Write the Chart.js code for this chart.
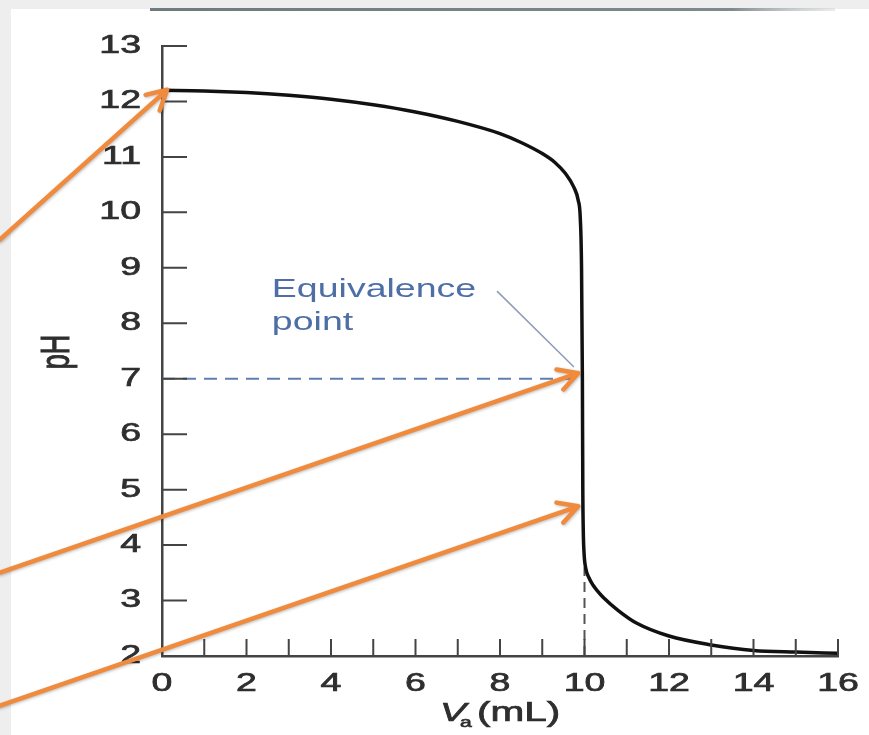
<!DOCTYPE html>
<html>
<head>
<meta charset="utf-8">
<script src="https://cdn.jsdelivr.net/npm/chart.js@4.4.1/dist/chart.umd.min.js"></script>
<style>
  html, body { margin: 0; padding: 0; background: #eeeeee; }
  #wrap { width: 869px; height: 735px; }
</style>
</head>
<body>
<div id="wrap"><canvas id="miGrafico" width="869" height="735"></canvas></div>
<script>
// titration curve
const volumes = [0, 1, 2, 3, 4, 5, 6, 7, 8, 8.5, 9, 9.3, 9.55, 9.75, 9.85, 9.9, 9.93, 9.95, 9.96, 9.97, 9.99, 10.03, 10.1, 10.2, 10.3, 10.44, 10.8, 11.24, 12, 13, 14, 15, 16];
const phValues = [12.2, 12.19, 12.16, 12.11, 12.04, 11.94, 11.81, 11.64, 11.42, 11.26, 11.06, 10.9, 10.7, 10.45, 10.22, 9.9, 9.0, 7.0, 5.0, 4.3, 3.85, 3.58, 3.42, 3.28, 3.18, 3.06, 2.82, 2.59, 2.36, 2.2, 2.1, 2.07, 2.05];

const xTickValues = [0, 1, 2, 3, 4, 5, 6, 7, 8, 9, 10, 11, 12, 13, 14, 15, 16];
const xTickLabels = ['0', '', '2', '', '4', '', '6', '', '8', '', '10', '', '12', '', '14', '', '16'];
const yTickValues = [2, 3, 4, 5, 6, 7, 8, 9, 10, 11, 12, 13];

// dashed guide lines
const eqLineVa = [0, 9.8];
const eqLinePH = [7, 7];
const eqDropVa = [10, 10];
const eqDropPH = [2, 3.6];
// leader from the label to the equivalence point
const leaderVa = [7.93, 9.75];
const leaderPH = [8.58, 7.21];
const eqLabel = ['Equivalence', 'point'];
const eqLabelPos = [2.6, 8.47];

// orange arrows (tail -> tip), data units
const arrowTails = [[-3.85, 9.5], [-3.85, 3.5], [-3.85, 1.1]];
const arrowTips = [[0.12, 12.21], [9.85, 7.1], [9.85, 4.7]];

const STRETCH = 1.5;
const FONT = '"Liberation Sans", Arial, sans-serif';

function pts(xs, ys) {
    return xs.map((v, i) => ({ x: v, y: ys[i] }));
}

function stretchedText(ctx, txt, x, y, align, heavy) {
    ctx.save();
    ctx.translate(x, y);
    ctx.scale(STRETCH, 1);
    ctx.textAlign = align;
    if (heavy) {
        ctx.lineWidth = 0.7;
        ctx.strokeStyle = ctx.fillStyle;
        ctx.strokeText(txt, 0, 0);
    }
    ctx.fillText(txt, 0, 0);
    ctx.restore();
}

const decor = {
    id: 'decor',
    beforeDraw(chart) {
        const ctx = chart.ctx;
        ctx.save();
        ctx.fillStyle = '#eeeeee';
        ctx.fillRect(0, 0, chart.width, chart.height);
        ctx.fillStyle = '#ffffff';
        ctx.fillRect(11, 9, chart.width - 11, chart.height - 9);
        const g = ctx.createLinearGradient(150, 0, 835, 0);
        g.addColorStop(0, '#6d7a7e');
        g.addColorStop(0.85, '#808a8d');
        g.addColorStop(1, 'rgba(200,205,207,0.4)');
        ctx.fillStyle = g;
        ctx.fillRect(150, 8, 685, 3);
        ctx.restore();
    },
    afterDraw(chart) {
        const ctx = chart.ctx;
        const xs = chart.scales.x, ys = chart.scales.y;
        const x0 = xs.getPixelForValue(0), y0 = ys.getPixelForValue(2);
        ctx.save();
        // inward tick marks
        ctx.strokeStyle = '#444';
        ctx.lineWidth = 2;
        ctx.beginPath();
        yTickValues.forEach(v => {
            const py = ys.getPixelForValue(v);
            ctx.moveTo(x0, py);
            ctx.lineTo(x0 + 25, py);
        });
        xTickValues.forEach(v => {
            const px = xs.getPixelForValue(v);
            ctx.moveTo(px, y0);
            ctx.lineTo(px, y0 - 17);
        });
        ctx.stroke();

        // tick labels
        ctx.fillStyle = '#2e2e2e';
        ctx.font = '25px ' + FONT;
        ctx.textBaseline = 'middle';
        yTickValues.forEach(v => {
            stretchedText(ctx, String(v), x0 - 21, ys.getPixelForValue(v), 'right', true);
        });
        ctx.textBaseline = 'alphabetic';
        xTickValues.forEach((v, i) => {
            if (xTickLabels[i]) stretchedText(ctx, xTickLabels[i], xs.getPixelForValue(v), y0 + 35, 'center', true);
        });

        // axis titles
        ctx.font = 'italic 26px ' + FONT;
        stretchedText(ctx, 'V', 440, 721, 'left', true);
        ctx.font = '14px ' + FONT;
        stretchedText(ctx, 'a', 460, 727, 'left', true);
        ctx.font = '27px ' + FONT;
        stretchedText(ctx, '(mL)', 477, 721, 'left', true);
        ctx.save();
        ctx.translate(58, 352);
        ctx.scale(STRETCH, 1);
        ctx.rotate(-Math.PI / 2);
        ctx.textAlign = 'center';
        ctx.textBaseline = 'middle';
        ctx.lineWidth = 0.7;
        ctx.strokeStyle = ctx.fillStyle;
        ctx.strokeText('pH', 0, 0);
        ctx.fillText('pH', 0, 0);
        ctx.restore();

        // equivalence label
        ctx.fillStyle = '#4d6fa6';
        ctx.font = '25px ' + FONT;
        const lx = xs.getPixelForValue(eqLabelPos[0]);
        const ly = ys.getPixelForValue(eqLabelPos[1]);
        stretchedText(ctx, eqLabel[0], lx, ly, 'left', false);
        stretchedText(ctx, eqLabel[1], lx, ly + 33, 'left', false);

        // orange arrows
        ctx.strokeStyle = '#f08a3c';
        ctx.lineWidth = 4.5;
        ctx.lineCap = 'round';
        ctx.lineJoin = 'round';
        ctx.shadowColor = 'rgba(0,0,0,0.25)';
        ctx.shadowBlur = 3;
        ctx.shadowOffsetX = 1;
        ctx.shadowOffsetY = 1;
        arrowTails.forEach((t, i) => {
            const ax = xs.getPixelForValue(t[0]), ay = ys.getPixelForValue(t[1]);
            const bx = xs.getPixelForValue(arrowTips[i][0]), by = ys.getPixelForValue(arrowTips[i][1]);
            const ang = Math.atan2(by - ay, bx - ax);
            ctx.beginPath();
            ctx.moveTo(ax, ay);
            ctx.lineTo(bx, by);
            ctx.moveTo(bx - 22 * Math.cos(ang - 0.5), by - 22 * Math.sin(ang - 0.5));
            ctx.lineTo(bx, by);
            ctx.lineTo(bx - 22 * Math.cos(ang + 0.5), by - 22 * Math.sin(ang + 0.5));
            ctx.stroke();
        });
        ctx.restore();
    }
};

window.onload = function () {
    const ctx = document.getElementById('miGrafico').getContext('2d');
    new Chart(ctx, {
        type: 'line',
        data: {
            datasets: [
                {
                    label: 'pH',
                    data: pts(volumes, phValues),
                    borderColor: '#111111',
                    borderWidth: 3.5,
                    pointRadius: 0,
                    cubicInterpolationMode: 'monotone'
                },
                {
                    label: 'pH 7',
                    data: pts(eqLineVa, eqLinePH),
                    borderColor: '#5f7fb3',
                    borderWidth: 2,
                    borderDash: [13, 8],
                    pointRadius: 0
                },
                {
                    label: 'Va 10',
                    data: pts(eqDropVa, eqDropPH),
                    borderColor: '#555555',
                    borderWidth: 2,
                    borderDash: [10, 6],
                    pointRadius: 0
                },
                {
                    label: 'leader',
                    data: pts(leaderVa, leaderPH),
                    borderColor: '#8e9cb8',
                    borderWidth: 1.5,
                    pointRadius: 0
                }
            ]
        },
        options: {
            responsive: false,
            animation: false,
            layout: { padding: { left: 162, top: 46, right: 31, bottom: 79 } },
            plugins: {
                legend: { display: false },
                tooltip: { enabled: false }
            },
            scales: {
                x: {
                    type: 'linear',
                    min: 0,
                    max: 16,
                    ticks: { display: false, stepSize: 1 },
                    grid: { display: false, drawTicks: false },
                    border: { display: true, color: '#444', width: 2.5 },
                    afterFit: s => { s.height = 0; }
                },
                y: {
                    min: 2,
                    max: 13,
                    ticks: { display: false, stepSize: 1 },
                    grid: { display: false, drawTicks: false },
                    border: { display: true, color: '#444', width: 2.5 },
                    afterFit: s => { s.width = 0; }
                }
            }
        },
        plugins: [decor]
    });
};
</script>
</body>
</html>
